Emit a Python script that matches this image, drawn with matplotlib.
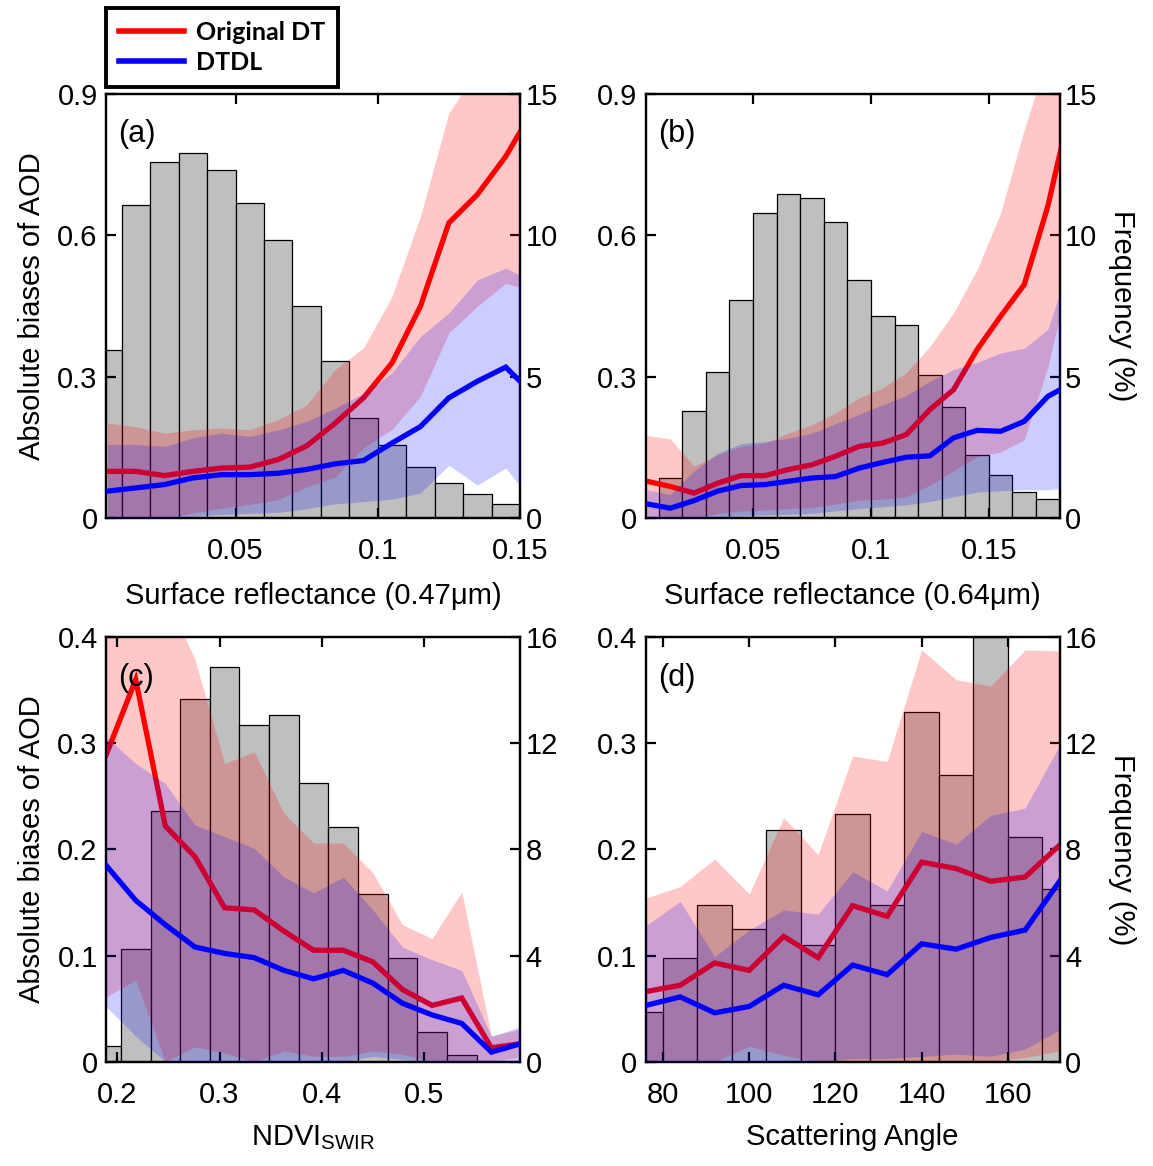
import matplotlib
matplotlib.use('Agg')
import matplotlib.pyplot as plt
from matplotlib.lines import Line2D

plt.rcParams['font.family'] = ['Liberation Sans', 'DejaVu Sans']
plt.rcParams['mathtext.fontset'] = 'custom'
plt.rcParams['mathtext.rm'] = 'Liberation Sans'

# ---- (a) surface reflectance 0.47 um ----
A_X = [0.005, 0.015, 0.025, 0.035, 0.045, 0.055, 0.065, 0.075, 0.085, 0.095,
       0.105, 0.115, 0.125, 0.135, 0.145, 0.155]
A_BIN_X = [0.005, 0.015, 0.025, 0.035, 0.045, 0.055, 0.065, 0.075, 0.085, 0.095,
           0.105, 0.115, 0.125, 0.135, 0.145]
A_FREQ = [5.93, 11.08, 12.58, 12.90, 12.29, 11.15, 9.82, 7.49, 5.54, 3.52,
          2.58, 1.80, 1.25, 0.86, 0.51]
A_RED = [0.099, 0.099, 0.090, 0.099, 0.106, 0.108, 0.124, 0.153, 0.201, 0.255,
         0.329, 0.449, 0.626, 0.686, 0.767, 0.870]
A_RED_LO = [0.0, 0.004, 0.0, 0.011, 0.021, 0.029, 0.039, 0.066, 0.087, 0.149,
            0.188, 0.258, 0.393, 0.449, 0.498, 0.480]
A_RED_HI = [0.201, 0.194, 0.180, 0.187, 0.191, 0.187, 0.209, 0.240, 0.315, 0.361,
            0.470, 0.640, 0.859, 0.950, 1.000, 1.100]
A_BLUE = [0.057, 0.064, 0.071, 0.085, 0.092, 0.092, 0.095, 0.103, 0.115, 0.122,
          0.159, 0.194, 0.255, 0.290, 0.320, 0.260]
A_BLUE_LO = [0.0, 0.0, 0.0, 0.004, 0.008, 0.010, 0.012, 0.020, 0.030, 0.035,
             0.040, 0.053, 0.112, 0.070, 0.106, 0.030]
A_BLUE_HI = [0.156, 0.156, 0.152, 0.170, 0.180, 0.173, 0.187, 0.205, 0.233, 0.265,
             0.308, 0.385, 0.435, 0.505, 0.530, 0.500]

# ---- (b) surface reflectance 0.64 um ----
B_X = [0.005, 0.015, 0.025, 0.035, 0.045, 0.055, 0.065, 0.075, 0.085, 0.095,
       0.105, 0.115, 0.125, 0.135, 0.145, 0.155, 0.165, 0.175, 0.185]
B_BIN_X = [0.015, 0.025, 0.035, 0.045, 0.055, 0.065, 0.075, 0.085, 0.095,
           0.105, 0.115, 0.125, 0.135, 0.145, 0.155, 0.165, 0.175]
B_FREQ = [1.41, 3.77, 5.16, 7.71, 10.78, 11.46, 11.31, 10.46, 8.40,
          7.15, 6.83, 5.06, 3.91, 2.23, 1.53, 0.91, 0.69]
B_RED = [0.078, 0.067, 0.053, 0.074, 0.090, 0.090, 0.103, 0.113, 0.131, 0.152,
         0.159, 0.177, 0.230, 0.272, 0.357, 0.428, 0.495, 0.661, 0.880]
B_RED_LO = [0.0, 0.0, 0.0, 0.010, 0.015, 0.017, 0.020, 0.022, 0.030, 0.038,
            0.040, 0.045, 0.070, 0.100, 0.130, 0.140, 0.166, 0.320, 0.530]
B_RED_HI = [0.175, 0.168, 0.110, 0.134, 0.152, 0.159, 0.180, 0.198, 0.223, 0.255,
            0.276, 0.308, 0.364, 0.435, 0.527, 0.647, 0.824, 0.980, 1.200]
B_BLUE = [0.030, 0.021, 0.037, 0.057, 0.069, 0.071, 0.078, 0.085, 0.088, 0.106,
          0.118, 0.129, 0.132, 0.170, 0.186, 0.184, 0.205, 0.258, 0.285]
B_BLUE_LO = [0.0, 0.0, 0.0, 0.003, 0.005, 0.007, 0.008, 0.010, 0.015, 0.020,
             0.024, 0.028, 0.035, 0.045, 0.055, 0.058, 0.060, 0.060, 0.065]
B_BLUE_HI = [0.060, 0.050, 0.100, 0.137, 0.158, 0.162, 0.169, 0.180, 0.200, 0.220,
             0.240, 0.260, 0.290, 0.315, 0.330, 0.350, 0.360, 0.400, 0.550]

# ---- (c) NDVI_SWIR ----
C_X = [0.189, 0.218, 0.247, 0.276, 0.305, 0.334, 0.363, 0.392, 0.421, 0.450,
       0.479, 0.508, 0.537, 0.566, 0.595]
C_FREQ = [0.59, 4.25, 9.46, 13.66, 14.87, 12.68, 13.06, 10.52, 8.84, 6.31,
          3.92, 1.13, 0.24, 0.04, 0.0]
C_RED = [0.289, 0.360, 0.222, 0.193, 0.145, 0.143, 0.123, 0.105, 0.105, 0.094,
         0.068, 0.053, 0.060, 0.013, 0.017]
C_RED_LO = [0.061, 0.077, 0.0, 0.014, 0.008, 0.0, 0.010, 0.005, 0.005, 0.010,
            0.007, 0.0, 0.0, 0.001, 0.004]
C_RED_HI = [0.520, 0.640, 0.440, 0.379, 0.281, 0.292, 0.234, 0.206, 0.206, 0.178,
            0.129, 0.116, 0.160, 0.024, 0.031]
C_BLUE = [0.185, 0.152, 0.129, 0.108, 0.102, 0.098, 0.086, 0.078, 0.086, 0.074,
          0.055, 0.044, 0.036, 0.009, 0.017]
C_BLUE_LO = [0.052, 0.024, 0.0, 0.0, 0.0, 0.0, 0.0, 0.0, 0.0, 0.005,
             0.002, 0.0, 0.0, 0.0, 0.0]
C_BLUE_HI = [0.306, 0.281, 0.262, 0.223, 0.212, 0.201, 0.174, 0.159, 0.174, 0.143,
             0.108, 0.096, 0.086, 0.024, 0.033]

# ---- (d) scattering angle ----
D_X = [76, 84, 92, 100, 108, 116, 124, 132, 140, 148, 156, 164, 172]
D_FREQ = [1.89, 3.91, 5.92, 5.01, 8.72, 4.41, 9.32, 5.92, 13.19, 10.80, 16.0, 8.48, 6.51]
D_RED = [0.066, 0.072, 0.093, 0.086, 0.118, 0.098, 0.147, 0.137, 0.188, 0.182,
         0.170, 0.174, 0.204]
D_RED_LO = [0.0, 0.0, 0.0, 0.0145, 0.006, 0.0, 0.0, 0.0, 0.0, 0.0, 0.0, 0.004, 0.010]
D_RED_HI = [0.154, 0.165, 0.191, 0.158, 0.230, 0.195, 0.288, 0.283, 0.388, 0.360,
            0.354, 0.388, 0.387]
D_BLUE = [0.053, 0.061, 0.046, 0.052, 0.072, 0.063, 0.091, 0.082, 0.111, 0.106,
          0.117, 0.124, 0.170]
D_BLUE_LO = [0.0, 0.0, 0.0, 0.0, 0.0, 0.0, 0.003, 0.003, 0.005, 0.007, 0.005, 0.012, 0.030]
D_BLUE_HI = [0.128, 0.151, 0.099, 0.124, 0.143, 0.139, 0.179, 0.161, 0.217, 0.205,
             0.232, 0.239, 0.298]

FS = 21
RED, BLUE = '#ff0000', '#0000ff'


def draw_panel(ax, x, bin_x, freq, width, red, red_lo, red_hi, blue, blue_lo, blue_hi):
    axf = ax.twinx()
    # bars live on the frequency axis but must sit behind the bands
    ax.set_zorder(axf.get_zorder() + 1)
    ax.patch.set_visible(False)
    axf.bar(bin_x, freq, width=width, color='#bfbfbf', edgecolor='black', linewidth=0.9)
    # blue band goes over the red line, which is why the red line turns crimson inside it
    ax.fill_between(x, red_lo, red_hi, color=RED, alpha=0.22, linewidth=0, zorder=1)
    ax.plot(x, red, color=RED, lw=3.8, solid_joinstyle='miter', zorder=2)
    ax.fill_between(x, blue_lo, blue_hi, color=BLUE, alpha=0.2, linewidth=0, zorder=3)
    ax.plot(x, blue, color=BLUE, lw=3.8, solid_joinstyle='miter', zorder=4)
    for a in (ax, axf):
        a.tick_params(direction='in', length=7, width=1.6, labelsize=FS)
        for s in a.spines.values():
            s.set_linewidth(1.6)
    ax.tick_params(axis='x', top=True, pad=14)
    ax.tick_params(axis='y', pad=6)
    axf.tick_params(axis='y', pad=4)
    return axf


fig = plt.figure(figsize=(11.53, 11.66), dpi=100)
W, H = 0.359, 0.364
ax_a = fig.add_axes([0.092, 0.5557, W, H])
ax_b = fig.add_axes([0.560, 0.5557, W, H])
ax_c = fig.add_axes([0.092, 0.0895, W, H])
ax_d = fig.add_axes([0.560, 0.0895, W, H])

f_a = draw_panel(ax_a, A_X, A_BIN_X, A_FREQ, 0.01, A_RED, A_RED_LO, A_RED_HI,
                 A_BLUE, A_BLUE_LO, A_BLUE_HI)
f_b = draw_panel(ax_b, B_X, B_BIN_X, B_FREQ, 0.01, B_RED, B_RED_LO, B_RED_HI,
                 B_BLUE, B_BLUE_LO, B_BLUE_HI)
f_c = draw_panel(ax_c, C_X, C_X, C_FREQ, 0.029, C_RED, C_RED_LO, C_RED_HI,
                 C_BLUE, C_BLUE_LO, C_BLUE_HI)
f_d = draw_panel(ax_d, D_X, D_X, D_FREQ, 8, D_RED, D_RED_LO, D_RED_HI,
                 D_BLUE, D_BLUE_LO, D_BLUE_HI)

for ax, axf in ((ax_a, f_a), (ax_b, f_b)):
    ax.set_ylim(0, 0.9)
    ax.set_yticks([0, 0.3, 0.6, 0.9], ['0', '0.3', '0.6', '0.9'])
    axf.set_ylim(0, 15)
    axf.set_yticks([0, 5, 10, 15])
for ax, axf in ((ax_c, f_c), (ax_d, f_d)):
    ax.set_ylim(0, 0.4)
    ax.set_yticks([0, 0.1, 0.2, 0.3, 0.4], ['0', '0.1', '0.2', '0.3', '0.4'])
    axf.set_ylim(0, 16)
    axf.set_yticks([0, 4, 8, 12, 16])

ax_a.set_xlim(0.0045, 0.15)
ax_a.set_xticks([0.05, 0.1, 0.15], ['0.05', '0.1', '0.15'])
ax_b.set_xlim(0.0045, 0.18)
ax_b.set_xticks([0.05, 0.1, 0.15], ['0.05', '0.1', '0.15'])
ax_c.set_xlim(0.189, 0.594)
ax_c.set_xticks([0.2, 0.3, 0.4, 0.5], ['0.2', '0.3', '0.4', '0.5'])
ax_d.set_xlim(76, 172)
ax_d.set_xticks([80, 100, 120, 140, 160])

ax_a.set_xlabel('Surface reflectance (0.47\u03bcm)', fontsize=FS, labelpad=12)
ax_b.set_xlabel('Surface reflectance (0.64\u03bcm)', fontsize=FS, labelpad=12)
ax_c.set_xlabel(r'NDVI$_{\mathregular{SWIR}}$', fontsize=FS, labelpad=10)
ax_d.set_xlabel('Scattering Angle', fontsize=FS, labelpad=10)
ax_a.set_ylabel('Absolute biases of AOD', fontsize=FS, labelpad=8)
ax_c.set_ylabel('Absolute biases of AOD', fontsize=FS, labelpad=8)
f_b.set_ylabel('Frequency (%)', fontsize=FS, rotation=270, labelpad=28)
f_d.set_ylabel('Frequency (%)', fontsize=FS, rotation=270, labelpad=28)

for ax, tag in ((ax_a, '(a)'), (ax_b, '(b)'), (ax_c, '(c)'), (ax_d, '(d)')):
    ax.text(0.03, 0.94, tag, transform=ax.transAxes, fontsize=FS + 1, va='top', ha='left')

handles = [Line2D([], [], color=RED, lw=4), Line2D([], [], color=BLUE, lw=4)]
leg = fig.legend(handles, ['Original DT', 'DTDL'], loc='upper left',
                 bbox_to_anchor=(106 / 1153, 1 - 8 / 1166), fancybox=False,
                 frameon=True, edgecolor='black', handlelength=2.6,
                 prop={'family': 'Lato', 'weight': 'bold', 'size': 18},
                 borderpad=0.5, labelspacing=0.3, handletextpad=0.5, borderaxespad=0)
leg.get_frame().set_linewidth(2.8)
leg.get_frame().set_alpha(1)

fig.savefig('out.png', dpi=100)
